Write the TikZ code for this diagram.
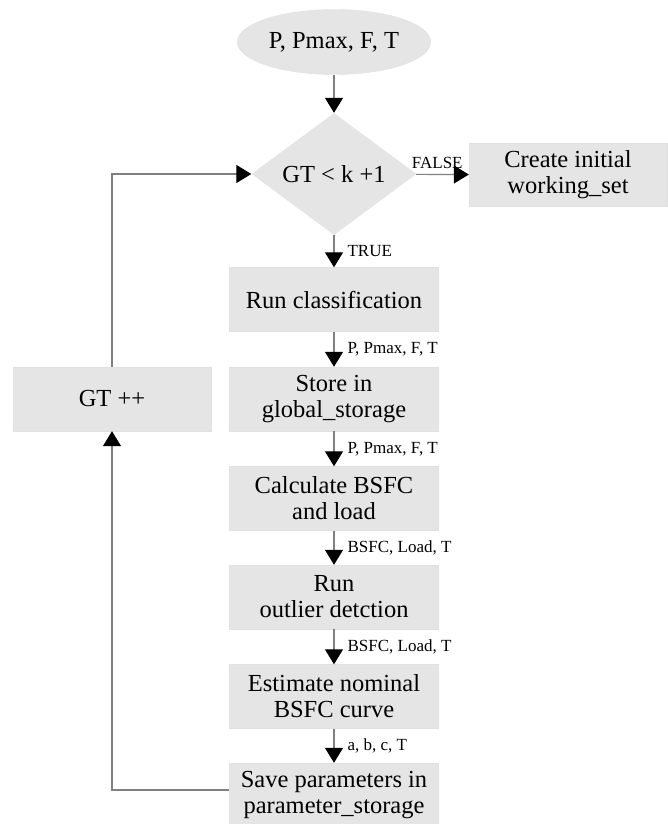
\documentclass[tikz,border=0pt]{standalone}
\usepackage{fontspec}
\setmainfont{Liberation Serif}
\usetikzlibrary{shapes.geometric, arrows.meta, positioning}

\begin{document}
\begin{tikzpicture}[x=1pt, y=-1pt,
    process/.style={rectangle, draw=black!12, fill=black!10, minimum width=209pt, minimum height=64pt, align=center, inner sep=1pt, font=\fontsize{24.5}{26}\selectfont},
    decision/.style={diamond, fill=black!10, minimum width=165pt, minimum height=122pt, inner sep=0pt, align=center, font=\fontsize{24.5}{26}\selectfont},
    data/.style={ellipse, draw=black!12, fill=black!10, minimum width=193pt, minimum height=65pt, align=center, font=\fontsize{24.5}{26}\selectfont},
    arrow/.style={-{Triangle[length=15pt, width=18pt, black]}, draw=black!50, line width=1.2pt},
    flowlabel/.style={font=\fontsize{17}{18}\selectfont, inner sep=2pt}
]
\useasboundingbox (0,0) rectangle (667,824);

\node[data] (input) at (334,42) {P, Pmax, F, T};
\node[decision] (cond) at (334,174) {GT < k +1};
\node[process, minimum width=198pt, minimum height=63pt] (init) at (568,175) {Create initial\\working\_set};

\node[process] (classify) at (334,299.5) {Run classification};
\node[process] (store) at (334,399) {Store in\\global\_storage};
\node[process] (calc) at (334,498.5) {Calculate BSFC\\and load};
\node[process] (outlier) at (334,597) {Run\\outlier detction};
\node[process] (estimate) at (334,696.5) {Estimate nominal\\BSFC curve};
\node[process] (save) at (334,795) {Save parameters in\\parameter\_storage};

\node[process, minimum width=198pt] (gtinc) at (112,399) {GT ++};

\draw[arrow] (input) -- (cond);
\draw[arrow] (cond) -- node[flowlabel, above, pos=0.4, yshift=3pt] {FALSE} (init);
\draw[arrow] (cond) -- node[flowlabel, right, xshift=11pt] {TRUE} (classify);

\draw[arrow] (classify) -- node[flowlabel, right, xshift=11pt] {P, Pmax, F, T} (store);
\draw[arrow] (store) -- node[flowlabel, right, xshift=11pt] {P, Pmax, F, T} (calc);
\draw[arrow] (calc) -- node[flowlabel, right, xshift=11pt] {BSFC, Load, T} (outlier);
\draw[arrow] (outlier) -- node[flowlabel, right, xshift=11pt] {BSFC, Load, T} (estimate);
\draw[arrow] (estimate) -- node[flowlabel, right, xshift=11pt] {a, b, c, T} (save);

% loop back
\draw[arrow] ([yshift=5pt]save.west) -| (gtinc.south);
\draw[arrow] (gtinc.north) |- (cond.west);
\end{tikzpicture}
\end{document}
